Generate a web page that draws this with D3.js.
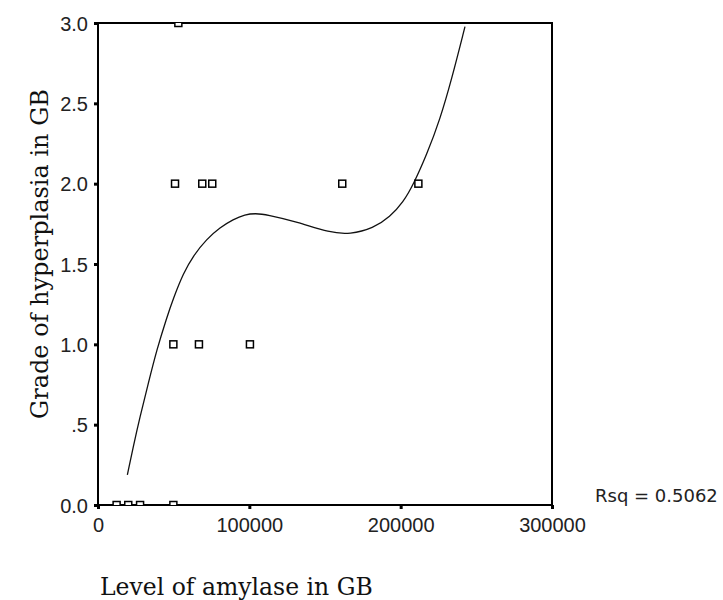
<!DOCTYPE html>
<html>
<head>
<meta charset="utf-8">
<script src="https://cdn.jsdelivr.net/npm/d3@7"></script>
<style>
  body { margin: 0; background: #fff; }
  .tick text { font-family: "Liberation Sans", Arial, sans-serif; font-size: 20px; fill: #222; }
  .tick line { stroke: #000; stroke-width: 3; }
  .axisTitle { font-family: "DejaVu Serif", serif; fill: #111; }
</style>
</head>
<body>
<div id="chart"></div>
<script>
"use strict";

// observed points (amylase level, hyperplasia grade)
const amylase = [12300, 20000, 27800, 49800, 49800, 66700, 100400, 50900, 68900, 75500, 161400, 211700, 53100];
const grade   = [0, 0, 0, 0, 1, 1, 1, 2, 2, 2, 2, 2, 3];

// cubic fit line
const fitX = [19400, 23300, 27750, 33240, 38790, 45400, 49760, 56370, 62980, 71830, 80620, 89410, 97140,
              104000, 111480, 131300, 153300, 166500, 181900, 193000, 201700, 208400, 217200, 226000,
              233700, 242500];
const fitY = [0.187, 0.363, 0.550, 0.757, 0.965, 1.165, 1.285, 1.442, 1.552, 1.655, 1.727, 1.778, 1.808,
              1.815, 1.808, 1.763, 1.694, 1.685, 1.722, 1.794, 1.885, 1.995, 2.180, 2.400,
              2.650, 2.977];

const xTicks = [0, 100000, 200000, 300000];
const yTicks = [0, 0.5, 1, 1.5, 2, 2.5, 3];
const rsqLabel = "Rsq = 0.5062";

let margin = {top: 23, right: 171, bottom: 95, left: 98};
let width = 723 - margin.left - margin.right;
let height = 600 - margin.top - margin.bottom;

let svg = d3.select("#chart")
  .append("svg")
  .attr("width", 723)
  .attr("height", 600)
  .append("g")
  .attr("transform", `translate(${margin.left},${margin.top})`);

let xScale = d3.scaleLinear().domain([0, 300000]).range([0, width]);
let yScale = d3.scaleLinear().domain([0, 3]).range([height, 0]);

// clip so points on the frame are cut in half like the original
svg.append("clipPath").attr("id", "plotClip")
  .append("rect").attr("width", width).attr("height", height);

// Axes
let xAxis = d3.axisBottom(xScale).tickValues(xTicks).tickSize(4).tickPadding(9).tickFormat(d3.format("d"));
let yAxis = d3.axisLeft(yScale).tickValues(yTicks).tickSize(4).tickPadding(6)
  .tickFormat(d => d === 0 ? "0.0" : d < 1 ? ".5" : d3.format(".1f")(d));

let gx = svg.append("g").attr("transform", `translate(0,${height})`).call(xAxis);
let gy = svg.append("g").call(yAxis);
gx.select(".domain").remove();
gy.select(".domain").remove();
gy.selectAll(".tick text").attr("dy", "0.35em");

// Frame
svg.append("rect")
  .attr("width", width)
  .attr("height", height)
  .attr("fill", "none")
  .attr("stroke", "#000")
  .attr("stroke-width", 2);

let plot = svg.append("g").attr("clip-path", "url(#plotClip)");

// Fit line
let fitData = fitX.map((x, i) => ({x: x, y: fitY[i]}));
let line = d3.line().curve(d3.curveBasis).x(d => xScale(d.x)).y(d => yScale(d.y));
plot.append("path")
  .datum(fitData)
  .attr("d", line)
  .attr("fill", "none")
  .attr("stroke", "#111")
  .attr("stroke-width", 1.3);

// Points
let pts = amylase.map((a, i) => ({x: a, y: grade[i]}));
plot.selectAll(".point")
  .data(pts)
  .enter()
  .append("rect")
  .attr("class", "point")
  .attr("x", d => xScale(d.x) - 3.5)
  .attr("y", d => yScale(d.y) - 3.5)
  .attr("width", 7)
  .attr("height", 7)
  .attr("fill", "#fff")
  .attr("stroke", "#000")
  .attr("stroke-width", 1.5);

// Rsq label
svg.append("text")
  .attr("x", width + 43)
  .attr("y", height - 3)
  .style("font-family", "'DejaVu Sans', sans-serif")
  .style("font-size", "18px")
  .style("fill", "#222")
  .text(rsqLabel);

// Axis titles
svg.append("text")
  .attr("class", "axisTitle")
  .attr("x", 2)
  .attr("y", height + 90)
  .style("font-size", "23.5px")
  .text("Level of amylase in GB");

svg.append("text")
  .attr("class", "axisTitle")
  .attr("text-anchor", "middle")
  .attr("transform", `translate(${-50},${231})rotate(-90)`)
  .style("font-size", "24px")
  .text("Grade of hyperplasia in GB");
</script>
</body>
</html>
